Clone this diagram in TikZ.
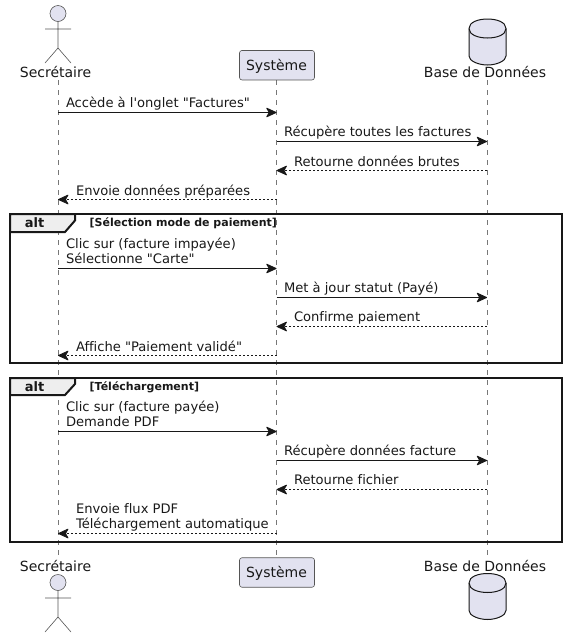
\documentclass[tikz,border=0pt]{standalone}
\usepackage{fontspec}
\newfontfamily\djv[Ligatures=CommonOff]{DejaVu Sans}
\usetikzlibrary{arrows.meta}
\definecolor{partfill}{HTML}{E2E2F0}
\definecolor{partline}{HTML}{555555}
\definecolor{lifec}{HTML}{777777}
\definecolor{inkc}{HTML}{181818}
\definecolor{grpfill}{HTML}{EEEEEE}
\tikzset{
  x=1pt,y=-1pt,
  lifeline/.style={draw=lifec,line width=.55pt,dash pattern=on 5pt off 5pt},
  sync/.style={draw=inkc,line width=1pt,-{Stealth[length=11.5pt,width=10.5pt,inset=3pt,round]}},
  reply/.style={draw=inkc,line width=.8pt,dash pattern=on 2pt off 2pt,-{Stealth[length=11.5pt,width=10.5pt,inset=3pt,round]}},
  lbl/.style={anchor=base west,inner sep=0pt,outer sep=0pt,font=\djv\fontsize{13.1}{15}\selectfont,text=inkc,align=left},
  partlbl/.style={anchor=base,inner sep=0pt,outer sep=0pt,font=\djv\fontsize{14}{16}\selectfont,text=inkc},
  sysbox/.style={draw=partline,fill=partfill,rounded corners=2.5pt,line width=.6pt,minimum width=75pt,minimum height=29.5pt,inner sep=0pt},
  actorline/.style={draw=partline,line width=.6pt},
  dbshape/.style={draw=inkc,fill=partfill,line width=1pt},
  framebox/.style={draw=inkc,line width=2pt},
  altlbl/.style={anchor=base,inner sep=0pt,font=\djv\fontsize{13}{15}\selectfont\bfseries,text=inkc},
  guardlbl/.style={anchor=base west,inner sep=0pt,font=\djv\fontsize{11}{13}\selectfont\bfseries,text=inkc},
}
\newcommand{\actorfig}[2]{% x, head centre y
  \draw[actorline,fill=partfill] (#1,#2) circle[radius=8];
  \draw[actorline] (#1,#2+8) -- (#1,#2+34.5) (#1-13,#2+15.5) -- (#1+13,#2+15.5)
    (#1-13,#2+49.5) -- (#1,#2+34.5) -- (#1+13,#2+49.5);
}
\newcommand{\dbfig}[2]{% x centre, top y
  \path[dbshape] (#1-18.5,#2+9.5) -- (#1-18.5,#2+37) .. controls (#1-18.5,#2+42) and (#1-9,#2+46) .. (#1,#2+46)
    .. controls (#1+9,#2+46) and (#1+18.5,#2+42) .. (#1+18.5,#2+37) -- (#1+18.5,#2+9.5)
    .. controls (#1+18.5,#2+3) and (#1+9,#2) .. (#1,#2) .. controls (#1-9,#2) and (#1-18.5,#2+3) .. (#1-18.5,#2+9.5) -- cycle;
  \draw[dbshape,fill=none] (#1-18.5,#2+9.5) .. controls (#1-18.5,#2+16) and (#1-9,#2+19) .. (#1,#2+19)
    .. controls (#1+9,#2+19) and (#1+18.5,#2+16) .. (#1+18.5,#2+9.5);
}
\begin{document}
\begin{tikzpicture}
\useasboundingbox (0,0) rectangle (566,638);
% lifeline ends
\coordinate (st) at (58,80); \coordinate (sb) at (58,556);
\coordinate (yt) at (276.5,80); \coordinate (yb) at (276.5,558);
\coordinate (bt) at (487,80); \coordinate (bb) at (487,556);
\draw[lifeline] (st) -- (sb);
\draw[lifeline] (yt) -- (yb);
\draw[lifeline] (bt) -- (bb);
% message ends
\foreach \n/\y in {1/112.5,2/141.5,3/170.5,4/199.5,5/268.5,6/297.5,7/326.5,8/355.5,9/431.5,10/460.5,11/489.5,12/533.5}{
  \coordinate (s\n) at (58,\y); \coordinate (y\n) at (276.5,\y); \coordinate (b\n) at (487,\y);
}
% frames
\draw[framebox] (10,214) rectangle (562,363);
\draw[framebox,fill=grpfill] (10,214) -- (75,214) -- (75,220.5) -- (65,232) -- (10,232) -- cycle;
\node[altlbl] (alta) at (34.5,227.5) {alt};
\node[guardlbl] (ga) at (89.5,226) {[Sélection mode de paiement]};
\draw[framebox] (10,378) rectangle (562,542);
\draw[framebox,fill=grpfill] (10,378) -- (75,378) -- (75,384) -- (65,395) -- (10,395) -- cycle;
\node[altlbl] (altb) at (34.5,391) {alt};
\node[guardlbl] (gb) at (89.5,390) {[Téléchargement]};
% participants
\actorfig{58}{13.5}
\node[partlbl] (ls1) at (55.5,77) {Secrétaire};
\node[sysbox] (sy1) at (277,65.2) {};
\node[partlbl] at (276.5,70) {Système};
\dbfig{487.5}{19}
\node[partlbl] (ld1) at (485,77.5) {Base de Données};
\actorfig{58}{582.5}
\node[partlbl] (ls2) at (55.5,571) {Secrétaire};
\node[sysbox] (sy2) at (277,572.5) {};
\node[partlbl] at (276.5,577) {Système};
\dbfig{487.5}{573.5}
\node[partlbl] (ld2) at (485,571.5) {Base de Données};
% messages
\draw[sync] (s1) -- (y1);
\node[lbl] at (66,107) {Accède à l'onglet "Factures"};
\draw[sync] (y2) -- (b2);
\node[lbl] at (284,136) {Récupère toutes les factures};
\draw[reply] (b3) -- (y3);
\node[lbl] at (294,166) {Retourne données brutes};
\draw[reply] (y4) -- (s4);
\node[lbl] at (76,195) {Envoie données préparées};
\draw[sync] (s5) -- (y5);
\node[lbl] at (66,248) {Clic sur (facture impayée)};
\node[lbl] at (66,263) {Sélectionne "Carte"};
\draw[sync] (y6) -- (b6);
\node[lbl] at (284,292) {Met à jour statut (Payé)};
\draw[reply] (b7) -- (y7);
\node[lbl] at (294,321) {Confirme paiement};
\draw[reply] (y8) -- (s8);
\node[lbl] at (76,351) {Affiche "Paiement validé"};
\draw[sync] (s9) -- (y9);
\node[lbl] at (66,411) {Clic sur (facture payée)};
\node[lbl] at (66,426) {Demande PDF};
\draw[sync] (y10) -- (b10);
\node[lbl] at (284,455) {Récupère données facture};
\draw[reply] (b11) -- (y11);
\node[lbl] at (294,484) {Retourne fichier};
\draw[reply] (y12) -- (s12);
\node[lbl] at (76,513) {Envoie flux PDF};
\node[lbl] at (76,528) {Téléchargement automatique};
\end{tikzpicture}
\end{document}
